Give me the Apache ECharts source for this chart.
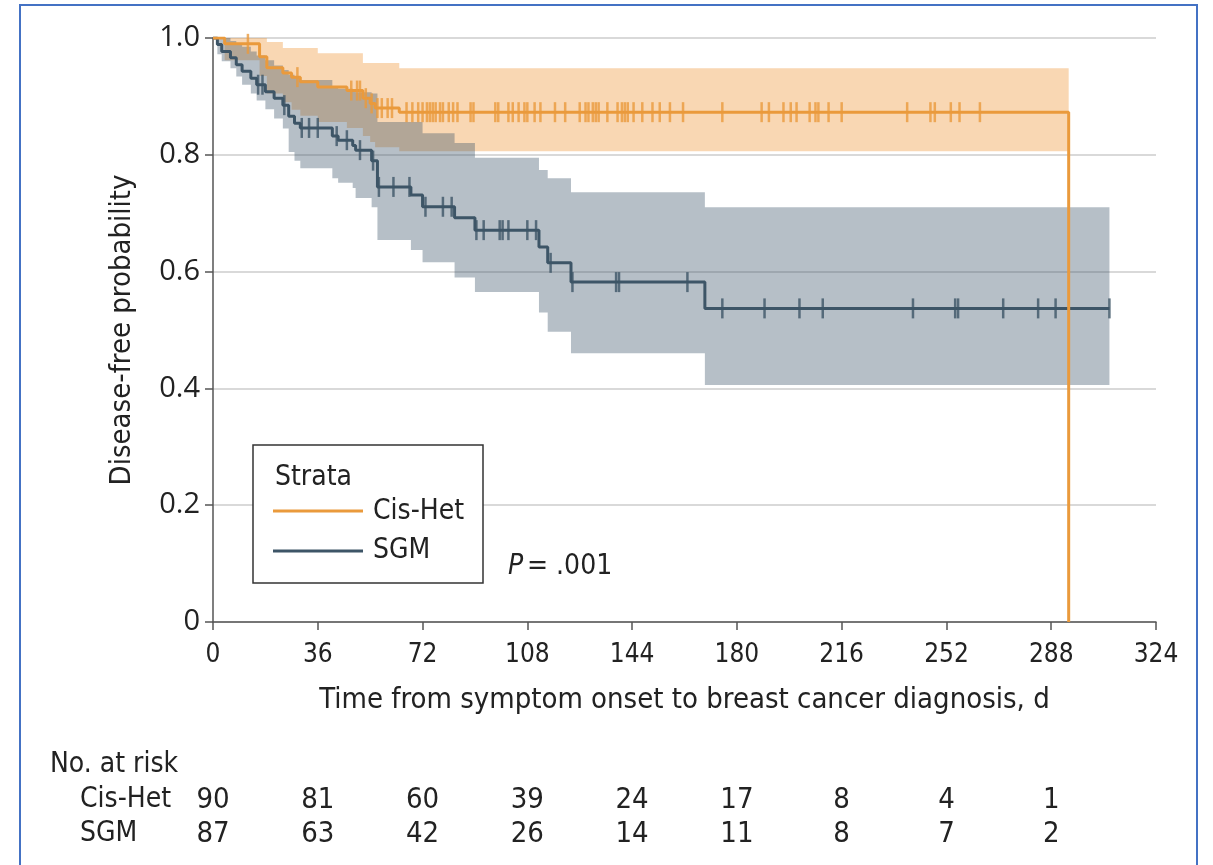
<!DOCTYPE html>
<html>
<head>
<meta charset="utf-8">
<script src="https://cdn.jsdelivr.net/npm/echarts@6/dist/echarts.min.js"></script>
<style>
  html, body { margin: 0; padding: 0; background: #fff; }
  #chart { width: 1213px; height: 865px; }
</style>
</head>
<body>
<div id="chart"></div>
<script>
const FONT = "'DejaVu Sans Condensed', 'Liberation Sans Narrow', 'Open Sans', sans-serif";
const TEXT = "#222";
const ORANGE = "#EA9A3C";
const SLATE = "#3D5567";

// Cis-Het Kaplan-Meier estimate (days, survival) and 95% CI
const cisTime = [0, 4, 16, 18.5, 24, 27, 30, 36, 46, 51.5, 54, 55.7, 64, 294];
const cisSurv = [1, 0.99, 0.968, 0.949, 0.94, 0.933, 0.925, 0.916, 0.91, 0.897, 0.888, 0.88, 0.873, 0];
const cisHigh = [1, 1, 1, 0.993, 0.983, 0.983, 0.983, 0.974, 0.974, 0.957, 0.957, 0.957, 0.948, 0.948];
const cisLow = [1, 0.962, 0.935, 0.905, 0.89, 0.877, 0.867, 0.856, 0.846, 0.832, 0.822, 0.813, 0.806, 0.806];
const cisCensor = [12, 29, 47.5, 49.5, 50.5, 52.5, 54.5, 56.5, 58, 60, 61.5, 66.5, 68.5, 70.5, 72, 73.5,
  74.5, 75.5, 76.5, 78, 79, 81, 82.5, 84, 88.5, 89.5, 97, 98, 101.5, 103, 105, 107, 108, 110.5, 112.5,
  117.5, 121, 126, 128, 129, 130.5, 131.5, 132.5, 135.5, 139, 140.5, 141.5, 142.5, 144.5, 147.5, 151,
  153.5, 157, 161.5, 175, 188.5, 191, 196, 198.5, 200.5, 205, 207, 208, 211.5, 216, 238.5, 246.5, 248,
  253.5, 256.5, 263.5];

// SGM Kaplan-Meier estimate and 95% CI
const sgmTime = [0, 1.5, 3, 6, 8, 10, 13, 15, 18, 21, 24, 26, 28, 30, 41, 43, 48, 49, 54.5, 56.5, 68, 72,
  83, 90, 112, 115, 123, 169, 308];
const sgmSurv = [1, 0.989, 0.977, 0.966, 0.954, 0.943, 0.931, 0.92, 0.908, 0.897, 0.885, 0.866, 0.854,
  0.846, 0.832, 0.825, 0.816, 0.808, 0.79, 0.745, 0.731, 0.711, 0.692, 0.671, 0.642, 0.615, 0.582, 0.537, 0.537];
const sgmHigh = [1, 1, 1, 0.995, 0.99, 0.985, 0.977, 0.97, 0.962, 0.953, 0.945, 0.937, 0.932, 0.928, 0.918,
  0.913, 0.908, 0.907, 0.905, 0.856, 0.856, 0.837, 0.82, 0.795, 0.774, 0.76, 0.736, 0.71, 0.71];
const sgmLow = [1, 0.972, 0.96, 0.948, 0.934, 0.92, 0.905, 0.893, 0.878, 0.862, 0.845, 0.805, 0.79, 0.777,
  0.76, 0.752, 0.743, 0.726, 0.71, 0.654, 0.637, 0.616, 0.59, 0.565, 0.53, 0.497, 0.46, 0.406, 0.406];
const sgmCensor = [15.5, 17, 24.5, 30.5, 33, 36, 42.5, 46, 50.5, 55, 57, 62, 67.5, 73, 79, 82, 90.5, 93,
  98.5, 99.5, 101.5, 108, 111, 116, 123.5, 138.5, 139.5, 163, 175, 189.5, 201.5, 209.5, 240.5, 255, 256,
  271.5, 283.5, 289.5, 308];

// number at risk table
const riskTimes = [0, 36, 72, 108, 144, 180, 216, 252, 288];
const riskRows = ["Cis-Het", "SGM"];
const cisRisk = [90, 81, 60, 39, 24, 17, 8, 4, 1];
const sgmRisk = [87, 63, 42, 26, 14, 11, 8, 7, 2];

const pairs = (xs, ys) => xs.map((x, i) => [x, ys[i]]);
// value of a step curve at time t
const stepAt = (xs, ys, t) => {
  let v = ys[0];
  xs.forEach((x, i) => { if (x <= t) v = ys[i]; });
  return v;
};

function band(times, lo, hi, color) {
  return {
    type: "custom",
    silent: true,
    z: 1,
    renderItem: function (params, api) {
      const top = [], bottom = [];
      for (let i = 0; i < times.length - 1; i++) {
        top.push(api.coord([times[i], hi[i]]), api.coord([times[i + 1], hi[i]]));
        bottom.push(api.coord([times[i], lo[i]]), api.coord([times[i + 1], lo[i]]));
      }
      return {
        type: "polygon",
        shape: { points: top.concat(bottom.reverse()) },
        style: { fill: color }
      };
    },
    data: [[times[0], hi[0]]]
  };
}

function curve(times, surv, color, z) {
  return {
    type: "line", step: "end", silent: true, z: z,
    data: pairs(times, surv),
    showSymbol: false, symbol: "none",
    lineStyle: { color: color, width: 3 }
  };
}

function censors(cens, times, surv, color, z) {
  return {
    type: "scatter", silent: true, z: z,
    symbol: "rect", symbolSize: [2.5, 20],
    itemStyle: { color: color },
    data: cens.map(t => [t, stepAt(times, surv, t)])
  };
}

function riskRow(row, counts) {
  return {
    type: "scatter", xAxisIndex: 1, yAxisIndex: 1, silent: true,
    symbolSize: 1,
    itemStyle: { color: "rgba(0,0,0,0)" },
    data: counts.map((n, i) => [riskTimes[i], row, n]),
    label: {
      show: true, position: "inside", formatter: p => String(p.value[2]),
      fontFamily: FONT, fontSize: 29, color: TEXT, textBorderWidth: 0, opacity: 1
    }
  };
}

const chart = echarts.init(document.getElementById("chart"), null, { renderer: "canvas" });

chart.setOption({
  animation: false,
  backgroundColor: "#fff",
  grid: [
    { left: 213, right: 57, top: 38, bottom: 243 },
    { left: 213, right: 57, top: 783, height: 68 }
  ],
  xAxis: [
    {
      type: "value", min: 0, max: 324, interval: 36,
      name: "Time from symptom onset to breast cancer diagnosis, d",
      nameLocation: "middle", nameGap: 64,
      nameTextStyle: { fontFamily: FONT, fontSize: 29, color: TEXT },
      axisLine: { show: true, lineStyle: { color: "#555", width: 1.5 } },
      axisTick: { show: true, length: 8, lineStyle: { color: "#555", width: 1.5 } },
      axisLabel: { fontFamily: FONT, fontSize: 26, color: TEXT, margin: 20 },
      splitLine: { show: false }
    },
    { type: "value", gridIndex: 1, min: 0, max: 324, show: false }
  ],
  yAxis: [
    {
      type: "value", min: 0, max: 1, interval: 0.2,
      name: "Disease-free probability",
      nameLocation: "middle", nameGap: 76,
      nameTextStyle: { fontFamily: FONT, fontSize: 29, color: TEXT },
      axisLine: { show: true, lineStyle: { color: "#555", width: 1.5 } },
      axisTick: { show: true, length: 8, lineStyle: { color: "#555", width: 1.5 } },
      axisLabel: {
        fontFamily: "'Open Sans', sans-serif", fontSize: 29, color: TEXT, margin: 13,
        formatter: v => (v === 0 ? "0" : v.toFixed(1))
      },
      splitLine: { show: true, lineStyle: { color: "#d9d9d9", width: 2 } }
    },
    {
      type: "category", gridIndex: 1, data: riskRows, inverse: true,
      axisLine: { show: false }, axisTick: { show: false }, splitLine: { show: false },
      axisLabel: { interval: 0, align: "left", margin: 133, fontFamily: FONT, fontSize: 28, color: TEXT }
    }
  ],
  series: [
    band(cisTime, cisLow, cisHigh, "rgba(240,150,55,0.38)"),
    band(sgmTime, sgmLow, sgmHigh, "rgba(60,85,105,0.375)"),
    curve(sgmTime, sgmSurv, SLATE, 3),
    curve(cisTime, cisSurv, ORANGE, 4),
    censors(sgmCensor, sgmTime, sgmSurv, SLATE, 5),
    censors(cisCensor, cisTime, cisSurv, ORANGE, 6),
    riskRow("Cis-Het", cisRisk),
    riskRow("SGM", sgmRisk)
  ],
  graphic: [
    { type: "rect", shape: { x: 20, y: 5, width: 1177, height: 900 },
      style: { fill: "none", stroke: "#4472C4", lineWidth: 2 }, silent: true },
    { type: "rect", shape: { x: 253, y: 445, width: 230, height: 138 },
      style: { fill: "#fff", stroke: "#333", lineWidth: 1.5 }, z: 10 },
    { type: "text", x: 275, y: 478, z: 11,
      style: { text: "Strata", fontFamily: FONT, fontSize: 28, fill: TEXT, verticalAlign: "middle" } },
    { type: "line", shape: { x1: 273, y1: 511, x2: 363, y2: 511 }, z: 11,
      style: { stroke: ORANGE, lineWidth: 3 } },
    { type: "line", shape: { x1: 273, y1: 551, x2: 363, y2: 551 }, z: 11,
      style: { stroke: SLATE, lineWidth: 3 } },
    { type: "text", x: 373, y: 512, z: 11,
      style: { text: "Cis-Het", fontFamily: FONT, fontSize: 28, fill: TEXT, verticalAlign: "middle" } },
    { type: "text", x: 373, y: 551, z: 11,
      style: { text: "SGM", fontFamily: FONT, fontSize: 28, fill: TEXT, verticalAlign: "middle" } },
    { type: "text", x: 508, y: 567, z: 11,
      style: { text: "P", fontFamily: FONT, fontStyle: "italic", fontSize: 28, fill: TEXT, verticalAlign: "middle" } },
    { type: "text", x: 527, y: 567, z: 11,
      style: { text: "= .001", fontFamily: FONT, fontSize: 28, fill: TEXT, verticalAlign: "middle" } },
    { type: "text", x: 50, y: 765, z: 11,
      style: { text: "No. at risk", fontFamily: FONT, fontSize: 28, fill: TEXT, verticalAlign: "middle" } }
  ]
});
</script>
</body>
</html>
